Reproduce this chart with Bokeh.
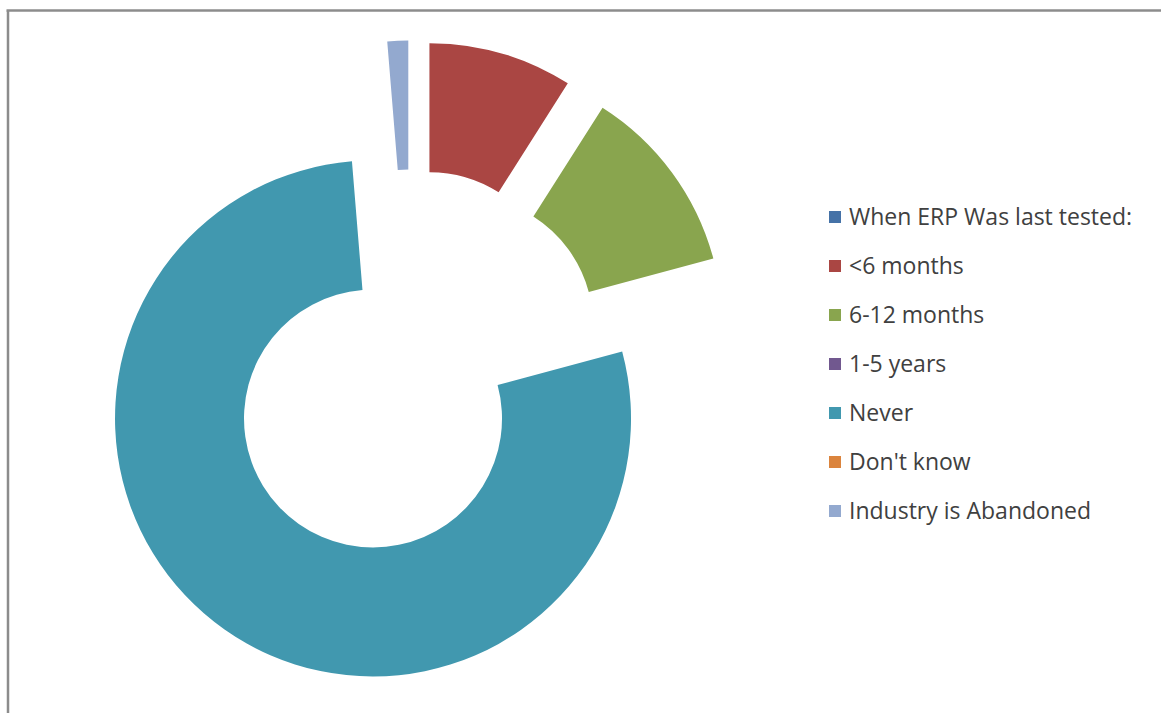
import math
from bokeh.plotting import figure
from bokeh.models import ColumnDataSource, Legend, LegendItem
from bokeh.embed import file_html
from bokeh.resources import INLINE

# ---- data ----
categories = ["When ERP Was last tested:", "<6 months", "6-12 months", "1-5 years",
              "Never", "Don't know", "Industry is Abandoned"]
values = [0, 9.0, 11.8, 0, 77.8, 0, 1.3]
colors = ["#4572A7", "#AA4643", "#89A54E", "#71588F", "#4198AF", "#DB843D", "#93A9CF"]

# ---- layout / style ----
W, H = 1161, 713
CX, CY = 410.5, 349.0        # donut centre in frame pixels (y up)
R_OUT, R_IN = 258, 129
EXPLODE = 66

p = figure(width=W, height=H, output_backend="svg", toolbar_location=None,
           x_range=(0, W), y_range=(0, H), x_axis_type=None, y_axis_type=None,
           min_border=0, outline_line_color=None)
p.background_fill_color = "white"
p.border_fill_color = "white"

total = sum(values)
cum = 0.0
items = []
for cat, v, c in zip(categories, values, colors):
    a1 = cum / total * 2 * math.pi          # clockwise from 12 o'clock
    a2 = (cum + v) / total * 2 * math.pi
    cum += v
    mid = math.pi / 2 - (a1 + a2) / 2
    if v > 0:
        xs, ys = [CX + EXPLODE * math.cos(mid)], [CY + EXPLODE * math.sin(mid)]
    else:
        xs, ys = [float("nan")], [float("nan")]
    src = ColumnDataSource(dict(x=xs, y=ys, s=[math.pi / 2 - a2], e=[math.pi / 2 - a1]))
    r = p.annular_wedge(x="x", y="y", inner_radius=R_IN, outer_radius=R_OUT,
                        start_angle="s", end_angle="e", direction="anticlock",
                        fill_color=c, line_color=None, source=src)
    items.append(LegendItem(label=cat, renderers=[r], index=0))

legend = Legend(items=items, location=(827, 187), orientation="vertical",
                glyph_width=15, glyph_height=15, label_standoff=7,
                spacing=17, padding=0, margin=0,
                label_text_font="Open Sans", label_text_font_size="23px",
                label_text_color="#404040", label_height=31,
                border_line_color=None, background_fill_alpha=0)
p.add_layout(legend, "center")

# chart-area border (top and left edges)
p.segment(x0=[6, 7.5], y0=[H - 10, H - 10], x1=[W, 7.5], y1=[H - 10, 0],
          line_color="#8c8c8c", line_width=2.5)

open("out.html", "w").write(file_html(p, INLINE))
